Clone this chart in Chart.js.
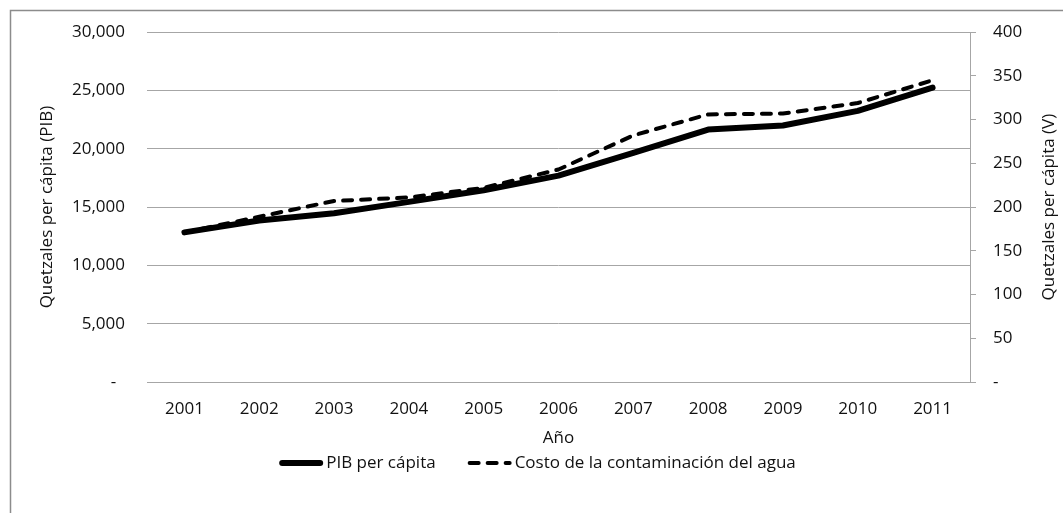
<!DOCTYPE html>
<html lang="es">
<head>
  <meta charset="UTF-8">
  <title>PIB per cápita y costo de la contaminación del agua</title>
  <script src="https://cdn.jsdelivr.net/npm/chart.js@4"></script>
  <style>
    html,body{margin:0;background:#fff;}
    #wrap{position:relative;width:1063px;height:513px;}
  </style>
</head>
<body>
  <div id="wrap"><canvas id="chart"></canvas></div>

  <script>
    /* ——— DATA ——— */
    const years = ['2001','2002','2003','2004','2005','2006','2007','2008','2009','2010','2011'];
    const pibPerCapita = [12830, 13850, 14480, 15450, 16450, 17700, 19650, 21650, 22000, 23250, 25250];
    const costoAgua    = [171, 189, 207, 211, 222, 243, 282, 306, 307, 319, 345];

    const leftMax = 30000, leftStep = 5000;
    const rightMax = 400, rightStep = 50;

    /* ——— STYLE ——— */
    const FONT = {family: 'Open Sans', size: 17};
    const FONT_CSS = '17px "Open Sans"';
    const TXT = '#111';
    const GRID = '#a6a6a6';

    // outer frame (only top and left edge fall inside the page)
    const frame = {
      id: 'frame',
      beforeDraw(chart){
        const ctx = chart.ctx;
        ctx.save();
        ctx.strokeStyle = '#8c8c8c';
        ctx.lineWidth = 1.5;
        ctx.strokeRect(10.5, 10.5, chart.width + 20, chart.height + 20);
        ctx.restore();
      }
    };

    // right axis title (bottom-to-top like the left one) and the legend row
    const extras = {
      id: 'extras',
      afterDraw(chart){
        const {ctx, chartArea} = chart;
        ctx.save();
        ctx.font = FONT_CSS;
        ctx.fillStyle = TXT;
        ctx.textBaseline = 'middle';

        // right title
        ctx.save();
        ctx.translate(chartArea.right + 79, (chartArea.top + chartArea.bottom) / 2);
        ctx.rotate(-Math.PI / 2);
        ctx.textAlign = 'center';
        ctx.fillText('Quetzales per cápita (V)', 0, 0);
        ctx.restore();

        // legend
        const sets = chart.data.datasets;
        const sampleW = 44, gap = 3, spacing = 32;
        const widths = sets.map(d => sampleW + gap + ctx.measureText(d.label).width);
        const total = widths.reduce((a, b) => a + b, 0) + spacing * (sets.length - 1);
        let x = (chartArea.left + chartArea.right) / 2 - 21 - total / 2;
        const y = chart.scales.x.bottom + 15;
        ctx.textAlign = 'left';
        sets.forEach((d, i) => {
          ctx.strokeStyle = d.borderColor;
          ctx.lineWidth = d.borderWidth;
          ctx.lineCap = d.borderCapStyle || 'butt';
          ctx.setLineDash(d.borderDash || []);
          ctx.beginPath();
          ctx.moveTo(x + d.borderWidth / 2, y);
          ctx.lineTo(x + sampleW - d.borderWidth / 2, y);
          ctx.stroke();
          ctx.setLineDash([]);
          ctx.fillText(d.label, x + sampleW + gap, y);
          x += widths[i] + spacing;
        });
        ctx.restore();
      }
    };

    /* ——— CHART ——— */
    new Chart(document.getElementById('chart'), {
      type: 'line',
      data: {
        labels: years,
        datasets: [
          {
            label: 'PIB per cápita',
            data: pibPerCapita,
            yAxisID: 'y',
            borderColor: '#000',
            borderWidth: 6,
            borderCapStyle: 'round',
            borderJoinStyle: 'round',
            pointRadius: 0,
            tension: 0
          },
          {
            label: 'Costo de la contaminación del agua',
            data: costoAgua,
            yAxisID: 'y1',
            borderColor: '#000',
            borderWidth: 4,
            borderDash: [9, 9],
            borderCapStyle: 'round',
            borderJoinStyle: 'round',
            pointRadius: 0,
            tension: 0
          }
        ]
      },
      options: {
        responsive: true,
        maintainAspectRatio: false,
        animation: false,
        layout: {padding: {top: 32, right: 0, bottom: 65, left: 0}},
        plugins: {legend: {display: false}, tooltip: {enabled: false}},
        scales: {
          x: {
            offset: true,
            grid: {display: false},
            border: {display: true, color: GRID},
            ticks: {color: TXT, font: FONT, padding: 9, maxRotation: 0},
            title: {display: true, text: 'Año', color: TXT, font: FONT, padding: {top: 0, bottom: 0}},
            afterFit: s => { s.height = 66; }
          },
          y: {
            position: 'left',
            min: 0, max: leftMax,
            grid: {color: GRID, drawTicks: false},
            border: {display: false},
            ticks: {
              stepSize: leftStep, color: TXT, font: FONT, padding: 22,
              callback: v => v === 0 ? '-  ' : v.toLocaleString('en-US')
            },
            title: {display: true, text: 'Quetzales per cápita (PIB)', color: TXT, font: FONT, padding: {top: 37, bottom: 0}},
            afterFit: s => { s.width = 147; }
          },
          y1: {
            position: 'right',
            min: 0, max: rightMax,
            grid: {drawOnChartArea: false, color: GRID, tickLength: 6},
            border: {display: true, color: GRID},
            ticks: {
              stepSize: rightStep, color: TXT, font: FONT, padding: 17,
              callback: v => v === 0 ? '-' : v
            },
            afterFit: s => { s.width = 93; }
          }
        }
      },
      plugins: [frame, extras]
    });
  </script>
</body>
</html>
